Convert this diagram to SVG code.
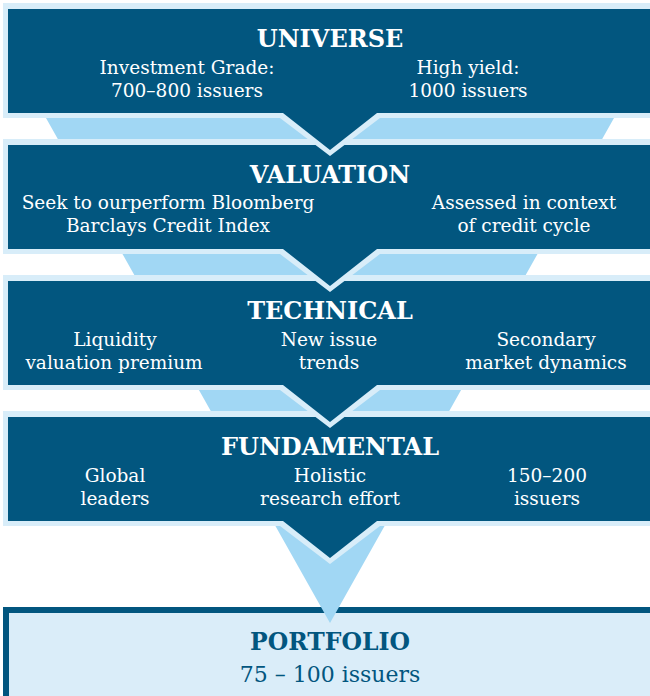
<svg xmlns="http://www.w3.org/2000/svg" width="650" height="696" viewBox="0 0 650 696">
<style>
.lt{fill:#d8edf9}
.dk{fill:#02567f}
.fun{fill:#a1d7f4}
.h{font-family:"DejaVu Serif","Liberation Serif",serif;font-weight:bold;font-size:24px;fill:#ffffff;text-anchor:middle}
.t{font-family:"DejaVu Serif","Liberation Serif",serif;font-size:18.5px;fill:#ffffff;text-anchor:middle}
.ph{font-family:"DejaVu Serif","Liberation Serif",serif;font-weight:bold;font-size:23.5px;fill:#02567f;text-anchor:middle}
.pt{font-family:"DejaVu Serif","Liberation Serif",serif;font-size:22px;fill:#02567f;text-anchor:middle}
</style>
<rect width="650" height="696" fill="#ffffff"/>
<g id="portfolio">
<rect x="6" y="610" width="660" height="100" fill="#daedf9" stroke="#02567f" stroke-width="6"/>
</g>
<g id="connectors">
<polygon class="fun" points="46,118 614,118 330,623"/>
</g>
<g id="fundamental">
<path class="lt" d="M3,411 H660 V526 H380 L330,564 L280,526 H3 Z"/>
<path class="dk" d="M8,417 H660 V521 H377 L330,558 L283,521 H8 Z"/>
<text class="h" x="330" y="455">FUNDAMENTAL</text>
<text class="t" x="115" y="482">Global</text>
<text class="t" x="115" y="505">leaders</text>
<text class="t" x="330" y="482">Holistic</text>
<text class="t" x="330" y="505">research effort</text>
<text class="t" x="547" y="482">150–200</text>
<text class="t" x="547" y="505">issuers</text>
</g>
<g id="technical">
<path class="lt" d="M3,275 H660 V390 H380 L330,428 L280,390 H3 Z"/>
<path class="dk" d="M8,281 H660 V385 H377 L330,422 L283,385 H8 Z"/>
<text class="h" x="330" y="319">TECHNICAL</text>
<text class="t" x="115" y="346">Liquidity</text>
<text class="t" x="114" y="369">valuation premium</text>
<text class="t" x="329" y="346">New issue</text>
<text class="t" x="329" y="369">trends</text>
<text class="t" x="546" y="346">Secondary</text>
<text class="t" x="546" y="369">market dynamics</text>
</g>
<g id="valuation">
<path class="lt" d="M3,139 H660 V254 H380 L330,292 L280,254 H3 Z"/>
<path class="dk" d="M8,145 H660 V249 H377 L330,286 L283,249 H8 Z"/>
<text class="h" x="330" y="183">VALUATION</text>
<text class="t" x="168" y="209">Seek to ourperform Bloomberg</text>
<text class="t" x="168" y="232">Barclays Credit Index</text>
<text class="t" x="524" y="209">Assessed in context</text>
<text class="t" x="524" y="232">of credit cycle</text>
</g>
<g id="universe">
<path class="lt" d="M3,3 H660 V118 H380 L330,156 L280,118 H3 Z"/>
<path class="dk" d="M8,9 H660 V113 H377 L330,150 L283,113 H8 Z"/>
<text class="h" x="330" y="47">UNIVERSE</text>
<text class="t" x="187" y="74">Investment Grade:</text>
<text class="t" x="187" y="97">700–800 issuers</text>
<text class="t" x="468" y="74">High yield:</text>
<text class="t" x="468" y="97">1000 issuers</text>
</g>
<g id="portfolio-text">
<text class="ph" x="330" y="650">PORTFOLIO</text>
<text class="pt" x="330" y="682">75 – 100 issuers</text>
</g>
</svg>
